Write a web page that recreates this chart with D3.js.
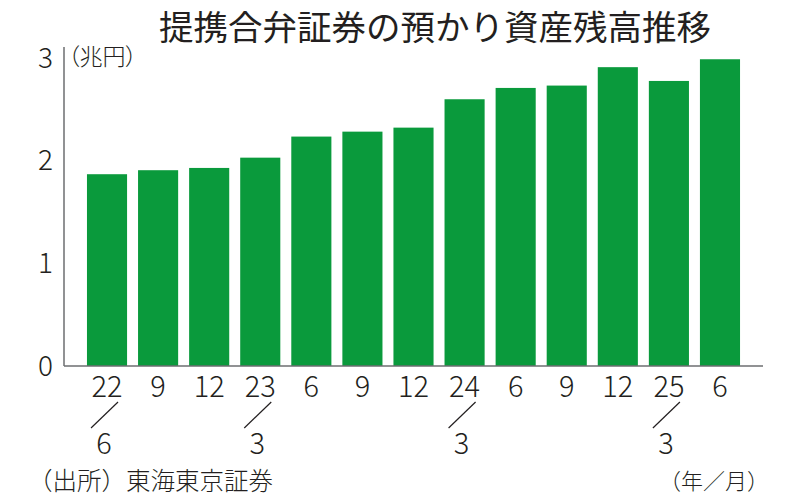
<!DOCTYPE html>
<html>
<head>
<meta charset="utf-8">
<title>提携合弁証券の預かり資産残高推移</title>
<script src="https://d3js.org/d3.v7.min.js"></script>
<style>
  body { margin: 0; background: #fff; }
  text { font-family: "Noto Sans CJK JP", "Noto Sans", sans-serif; fill: #231f20; font-weight: 300; }
  .palt { font-feature-settings: "palt"; }
</style>
</head>
<body>
<div id="chart"></div>
<script>
// data (兆円)
const years  = ["22", "", "", "23", "", "", "", "24", "", "", "", "25", ""];
const months = ["6", "9", "12", "3", "6", "9", "12", "3", "6", "9", "12", "3", "6"];
const values = [1.865, 1.904, 1.926, 2.026, 2.231, 2.279, 2.318, 2.594, 2.704, 2.727, 2.906, 2.772, 2.983];
const yTicks = [0, 1, 2, 3];

const width = 800, height = 500;
const keys = values.map((d, i) => i);

const svg = d3.select("#chart").append("svg")
    .attr("width", width)
    .attr("height", height);

const x = d3.scaleBand()
    .domain(keys)
    .range([81.5, 745.5])
    .paddingInner(0.215)
    .paddingOuter(0.107);

const y = d3.scaleLinear()
    .domain([0, 3])
    .range([366, 57.5]);

// title
svg.append("text")
    .attr("x", 435)
    .attr("y", 40)
    .attr("text-anchor", "middle")
    .style("font-size", "34.5px")
    .style("font-weight", 400)
    .text("提携合弁証券の預かり資産残高推移");

// bars
svg.selectAll("rect.bar")
    .data(values)
    .join("rect")
    .attr("class", "bar")
    .attr("x", (d, i) => x(i))
    .attr("y", d => y(d))
    .attr("width", x.bandwidth())
    .attr("height", d => y(0) - y(d))
    .attr("fill", "#0a9a3c");

// axes lines
svg.append("line")
    .attr("x1", 64).attr("x2", 64)
    .attr("y1", 47).attr("y2", y(0))
    .attr("stroke", "#6d6e71").attr("stroke-width", 1.5);
svg.append("line")
    .attr("x1", 64).attr("x2", 763)
    .attr("y1", y(0)).attr("y2", y(0))
    .attr("stroke", "#6d6e71").attr("stroke-width", 1.5);

// y tick labels
svg.selectAll("text.ytick")
    .data(yTicks)
    .join("text")
    .attr("class", "ytick")
    .attr("x", 53)
    .attr("y", d => y(d) + 10)
    .attr("text-anchor", "end")
    .style("font-size", "28px")
    .text(d => d);

svg.append("text")
    .attr("class", "palt")
    .attr("x", 68)
    .attr("y", 65)
    .style("font-size", "23px")
    .text("（兆円）");

// x labels: top line
svg.selectAll("text.xtop")
    .data(keys)
    .join("text")
    .attr("class", "xtop")
    .attr("x", i => x(i) + x.bandwidth() / 2)
    .attr("y", 397)
    .attr("text-anchor", "middle")
    .style("font-size", "29px")
    .text(i => years[i] !== "" ? years[i] : months[i]);

// year/month slashes and months below
const yearIdx = keys.filter(i => years[i] !== "");

svg.selectAll("line.slash")
    .data(yearIdx)
    .join("line")
    .attr("class", "slash")
    .attr("x1", i => x(i) + x.bandwidth() / 2 + 11)
    .attr("y1", 402)
    .attr("x2", i => x(i) + x.bandwidth() / 2 - 16)
    .attr("y2", 428)
    .attr("stroke", "#231f20")
    .attr("stroke-width", 1.2);

svg.selectAll("text.xbottom")
    .data(yearIdx)
    .join("text")
    .attr("class", "xbottom")
    .attr("x", i => x(i) + x.bandwidth() / 2 - 3)
    .attr("y", 454)
    .attr("text-anchor", "middle")
    .style("font-size", "29px")
    .text(i => months[i]);

// footer
svg.append("text")
    .attr("x", 28)
    .attr("y", 490)
    .style("font-size", "24.5px")
    .text("（出所）東海東京証券");

svg.append("text")
    .attr("x", 769)
    .attr("y", 489)
    .attr("text-anchor", "end")
    .style("font-size", "22px")
    .text("（年／月）");
</script>
</body>
</html>
